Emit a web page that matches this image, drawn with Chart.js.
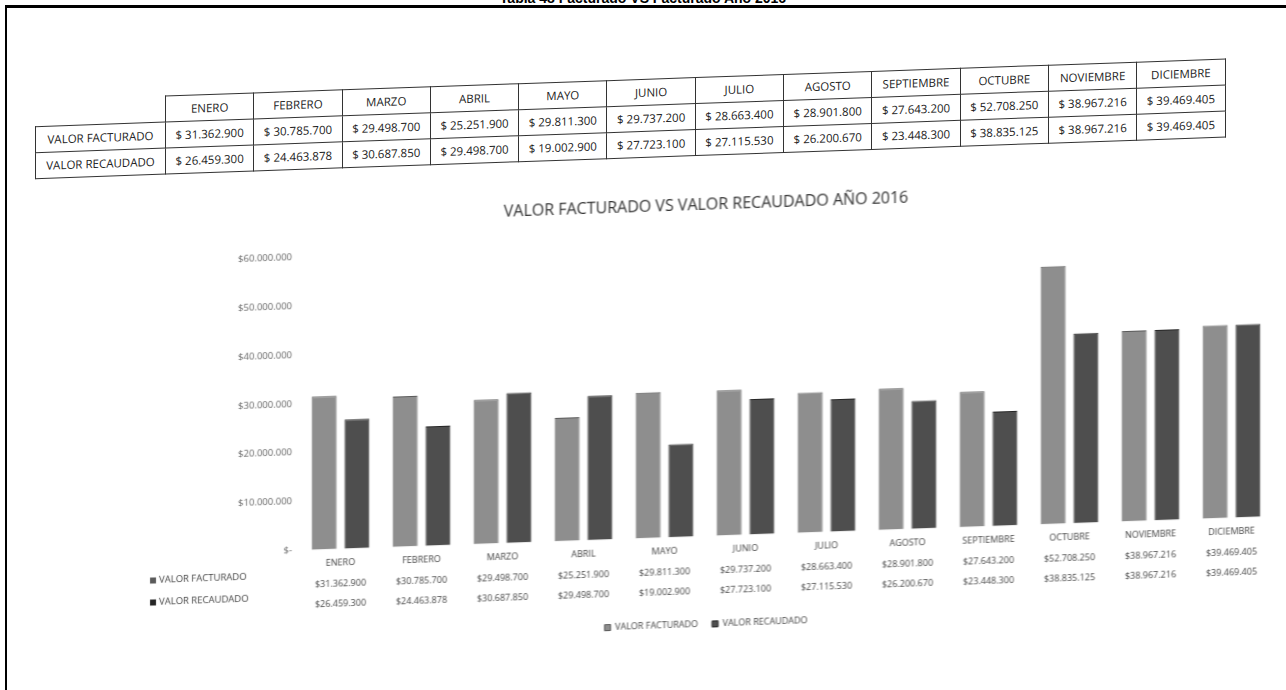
<!DOCTYPE html>
<html>
<head>
<meta charset="utf-8">
<script src="https://cdn.jsdelivr.net/npm/chart.js"></script>
<style>
  body { margin: 0; background: #fff; width: 1286px; height: 690px; overflow: hidden; position: relative; font-family: 'Open Sans', sans-serif; }
  #frame { position: absolute; left: 5px; top: 5px; width: 1300px; height: 700px; border-left: 2px solid #000; border-top: 3px solid #000; }
  #caption { position: absolute; top: -10px; left: 0; width: 1286px; text-align: center; font: bold 14px 'Liberation Sans', Arial, sans-serif; color: #000; }
  #page { position: absolute; left: 0; top: 0; width: 1286px; height: 690px; transform: skewY(-2deg); transform-origin: 640px 370px; }
  #tbl { position: absolute; left: 35px; top: 79px; border-collapse: collapse; table-layout: fixed; width: 1190px; font-size: 11.5px; color: #222; }
  #tbl td { border: 1px solid #333; height: 25px; padding: 0; text-align: center; white-space: nowrap; overflow: hidden; }
  #tbl td.blank { border: none; }
  #wrap { position: absolute; left: 140px; top: 190px; width: 1140px; height: 451px; }
</style>
</head>
<body>
<div id="caption">Tabla 48 Facturado VS Facturado Año 2016</div>
<div id="frame"></div>
<div id="page">
  <table id="tbl"></table>
  <div id="wrap"><canvas id="myChart"></canvas></div>
</div>
<script>
const MESES = ['ENERO', 'FEBRERO', 'MARZO', 'ABRIL', 'MAYO', 'JUNIO', 'JULIO', 'AGOSTO', 'SEPTIEMBRE', 'OCTUBRE', 'NOVIEMBRE', 'DICIEMBRE'];
const FACTURADO = [31362900, 30785700, 29498700, 25251900, 29811300, 29737200, 28663400, 28901800, 27643200, 52708250, 38967216, 39469405];
const RECAUDADO = [26459300, 24463878, 30687850, 29498700, 19002900, 27723100, 27115530, 26200670, 23448300, 38835125, 38967216, 39469405];
const SERIES = ['VALOR FACTURADO', 'VALOR RECAUDADO'];
const Y_MAX = 60000000;
const Y_STEP = 10000000;
const COLORS = ['#8e8e8e', '#4e4e4e'];
const BORDERS = ['#5a5a5a', '#262626'];

function puntos(v) {
  return String(Math.round(v)).replace(/\B(?=(\d{3})+(?!\d))/g, '.');
}

// tabla de arriba
function buildTable() {
  const t = document.getElementById('tbl');
  let html = '<colgroup><col style="width:130px">';
  MESES.forEach(() => { html += '<col style="width:88.3px">'; });
  html += '</colgroup><tr><td class="blank"></td>';
  MESES.forEach(m => { html += '<td>' + m + '</td>'; });
  html += '</tr>';
  [FACTURADO, RECAUDADO].forEach((serie, i) => {
    html += '<tr><td>' + SERIES[i] + '</td>';
    serie.forEach(v => { html += '<td>$ ' + puntos(v) + '</td>'; });
    html += '</tr>';
  });
  t.innerHTML = html;
}

// nombres de fila de la tabla de datos bajo el eje
const rowHeaders = {
  id: 'rowHeaders',
  afterDraw(chart) {
    const ctx = chart.ctx;
    const b = chart.chartArea.bottom;
    ctx.save();
    ctx.font = '9.5px "Open Sans"';
    ctx.textBaseline = 'middle';
    SERIES.forEach((s, i) => {
      const y = b + 25 + i * 22;
      ctx.fillStyle = BORDERS[i];
      ctx.fillRect(10, y - 3, 6, 6);
      ctx.fillStyle = '#444';
      ctx.fillText(s, 19, y);
    });
    ctx.restore();
  }
};

const config = {
  type: 'bar',
  data: {
    labels: MESES,
    datasets: [{
      label: SERIES[0],
      data: FACTURADO,
      backgroundColor: COLORS[0],
      borderColor: BORDERS[0],
      borderWidth: 1
    }, {
      label: SERIES[1],
      data: RECAUDADO,
      backgroundColor: COLORS[1],
      borderColor: BORDERS[1],
      borderWidth: 1
    }]
  },
  options: {
    responsive: true,
    maintainAspectRatio: false,
    animation: false,
    categoryPercentage: 0.81,
    barPercentage: 0.76,
    layout: { padding: { right: 8 } },
    scales: {
      x: {
        grid: { display: false, drawTicks: false },
        border: { display: false },
        ticks: {
          padding: 4,
          color: '#444',
          font: { family: 'Open Sans', size: 9, lineHeight: '20.5px' },
          callback: (v, i) => [MESES[i], '$' + puntos(FACTURADO[i]), '$' + puntos(RECAUDADO[i])]
        }
      },
      y: {
        min: 0,
        max: Y_MAX,
        grid: { display: false, drawTicks: false },
        border: { display: false },
        afterFit: s => { s.width = 160; },
        ticks: {
          stepSize: Y_STEP,
          padding: 8,
          color: '#666',
          font: { family: 'Open Sans', size: 9.5 },
          callback: v => v === 0 ? '$-' : '$' + puntos(v)
        }
      }
    },
    plugins: {
      title: {
        display: true,
        text: 'VALOR FACTURADO VS VALOR RECAUDADO AÑO 2016',
        color: '#333',
        font: { family: 'Open Sans', size: 16, weight: 'normal' },
        padding: { top: 8, bottom: 28 }
      },
      legend: {
        position: 'bottom',
        labels: {
          boxWidth: 6,
          boxHeight: 6,
          color: '#444',
          font: { family: 'Open Sans', size: 9 },
          padding: 14
        }
      },
      tooltip: { enabled: false }
    }
  },
  plugins: [rowHeaders]
};

function buildChart() {
  const ctx = document.getElementById('myChart').getContext('2d');
  return new Chart(ctx, config);
}

buildTable();
window.addEventListener('load', () => {
  const myChart = buildChart();
});
</script>
</body>
</html>
